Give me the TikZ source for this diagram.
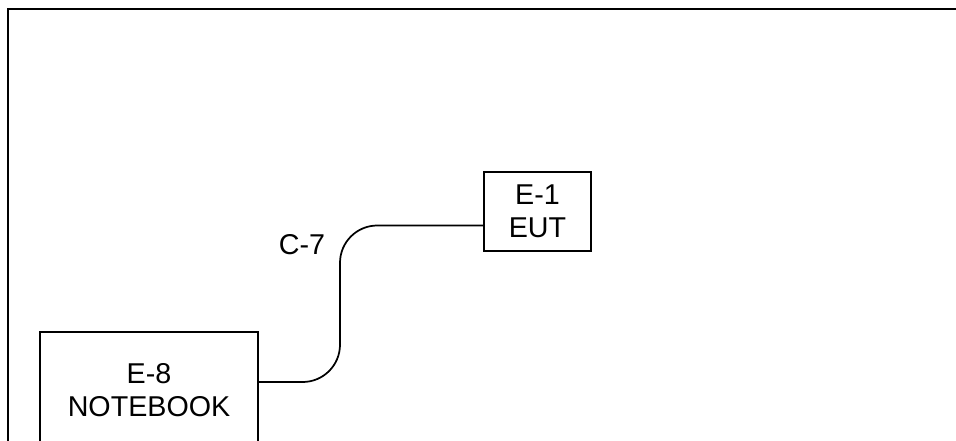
\documentclass[tikz,border=0pt]{standalone}
\usepackage{fontspec}
\setmainfont{Liberation Sans}
\begin{document}
\begin{tikzpicture}[x=0.75pt,y=-0.75pt,
  unit/.style={draw,line width=1.3pt,align=center,inner sep=0pt,font=\fontsize{21.5}{25}\selectfont}]
\useasboundingbox (0,0) rectangle (956,441);
\draw[line width=2pt] (956,9) -- (8,9) -- (8,441);
\node[unit,minimum width=218*0.75pt,minimum height=116*0.75pt] (NB) at (149,390) {E-8\\NOTEBOOK};
\node[unit,minimum width=107*0.75pt,minimum height=79*0.75pt] (EUT) at (537.5,211.5) {E-1\\EUT};
\node[font=\fontsize{21.5}{25}\selectfont] (C7) at (302,245) {C-7};
\draw[line width=1.3pt,rounded corners=28pt] (NB.east |- 0,382) -- (340,382) -- (340,225.5) -- (EUT.west |- 0,225.5);
\end{tikzpicture}
\end{document}
